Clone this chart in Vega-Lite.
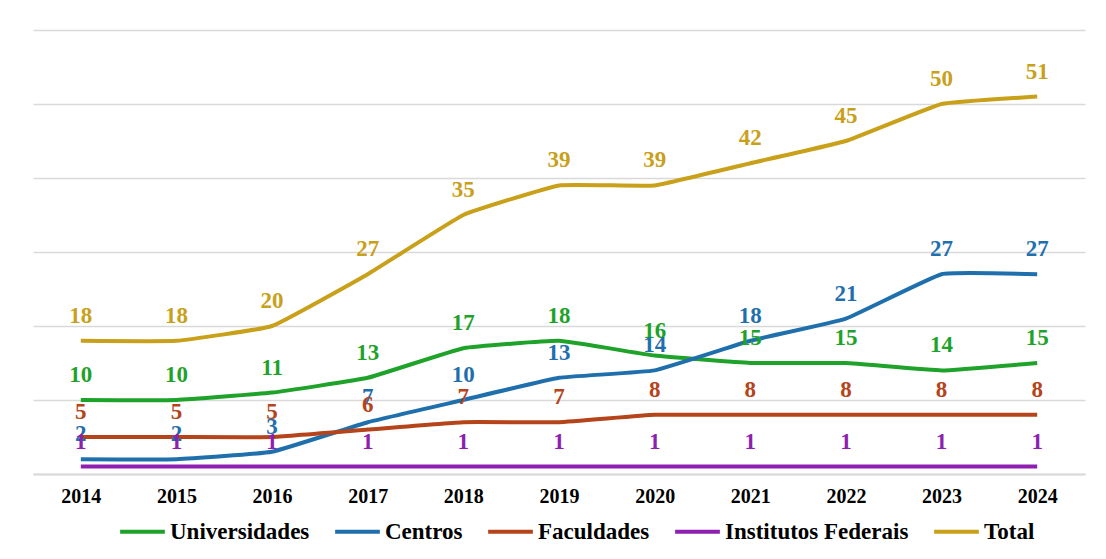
{
  "$schema": "https://vega.github.io/schema/vega-lite/v6.json",
  "width": 1052,
  "height": 444,
  "autosize": {"type": "none"},
  "padding": {"left": 33, "top": 30, "right": 21, "bottom": 85},
  "background": "white",
  "config": {
    "view": {"stroke": null},
    "font": "Liberation Serif"
  },
  "data": {
    "values": [
      {"ano": "2014", "serie": "Universidades", "valor": 10},
      {"ano": "2015", "serie": "Universidades", "valor": 10},
      {"ano": "2016", "serie": "Universidades", "valor": 11},
      {"ano": "2017", "serie": "Universidades", "valor": 13},
      {"ano": "2018", "serie": "Universidades", "valor": 17},
      {"ano": "2019", "serie": "Universidades", "valor": 18},
      {"ano": "2020", "serie": "Universidades", "valor": 16},
      {"ano": "2021", "serie": "Universidades", "valor": 15},
      {"ano": "2022", "serie": "Universidades", "valor": 15},
      {"ano": "2023", "serie": "Universidades", "valor": 14},
      {"ano": "2024", "serie": "Universidades", "valor": 15},
      {"ano": "2014", "serie": "Centros", "valor": 2},
      {"ano": "2015", "serie": "Centros", "valor": 2},
      {"ano": "2016", "serie": "Centros", "valor": 3},
      {"ano": "2017", "serie": "Centros", "valor": 7},
      {"ano": "2018", "serie": "Centros", "valor": 10},
      {"ano": "2019", "serie": "Centros", "valor": 13},
      {"ano": "2020", "serie": "Centros", "valor": 14},
      {"ano": "2021", "serie": "Centros", "valor": 18},
      {"ano": "2022", "serie": "Centros", "valor": 21},
      {"ano": "2023", "serie": "Centros", "valor": 27},
      {"ano": "2024", "serie": "Centros", "valor": 27},
      {"ano": "2014", "serie": "Faculdades", "valor": 5},
      {"ano": "2015", "serie": "Faculdades", "valor": 5},
      {"ano": "2016", "serie": "Faculdades", "valor": 5},
      {"ano": "2017", "serie": "Faculdades", "valor": 6},
      {"ano": "2018", "serie": "Faculdades", "valor": 7},
      {"ano": "2019", "serie": "Faculdades", "valor": 7},
      {"ano": "2020", "serie": "Faculdades", "valor": 8},
      {"ano": "2021", "serie": "Faculdades", "valor": 8},
      {"ano": "2022", "serie": "Faculdades", "valor": 8},
      {"ano": "2023", "serie": "Faculdades", "valor": 8},
      {"ano": "2024", "serie": "Faculdades", "valor": 8},
      {"ano": "2014", "serie": "Institutos Federais", "valor": 1},
      {"ano": "2015", "serie": "Institutos Federais", "valor": 1},
      {"ano": "2016", "serie": "Institutos Federais", "valor": 1},
      {"ano": "2017", "serie": "Institutos Federais", "valor": 1},
      {"ano": "2018", "serie": "Institutos Federais", "valor": 1},
      {"ano": "2019", "serie": "Institutos Federais", "valor": 1},
      {"ano": "2020", "serie": "Institutos Federais", "valor": 1},
      {"ano": "2021", "serie": "Institutos Federais", "valor": 1},
      {"ano": "2022", "serie": "Institutos Federais", "valor": 1},
      {"ano": "2023", "serie": "Institutos Federais", "valor": 1},
      {"ano": "2024", "serie": "Institutos Federais", "valor": 1},
      {"ano": "2014", "serie": "Total", "valor": 18},
      {"ano": "2015", "serie": "Total", "valor": 18},
      {"ano": "2016", "serie": "Total", "valor": 20},
      {"ano": "2017", "serie": "Total", "valor": 27},
      {"ano": "2018", "serie": "Total", "valor": 35},
      {"ano": "2019", "serie": "Total", "valor": 39},
      {"ano": "2020", "serie": "Total", "valor": 39},
      {"ano": "2021", "serie": "Total", "valor": 42},
      {"ano": "2022", "serie": "Total", "valor": 45},
      {"ano": "2023", "serie": "Total", "valor": 50},
      {"ano": "2024", "serie": "Total", "valor": 51}
    ]
  },
  "encoding": {
    "x": {
      "field": "ano", "type": "ordinal",
      "scale": {"type": "point", "padding": 0.5},
      "axis": {
        "title": null, "labelAngle": 0, "ticks": false,
        "labelFont": "Liberation Serif", "labelFontWeight": "bold", "labelFontSize": 20,
        "labelColor": "#000000", "labelPadding": 12,
        "domainColor": "#d9d9d9", "domainWidth": 2
      }
    },
    "y": {
      "field": "valor", "type": "quantitative",
      "scale": {"domain": [0, 60], "nice": false},
      "axis": {
        "title": null, "labels": false, "ticks": false, "domain": false,
        "values": [0, 10, 20, 30, 40, 50, 60],
        "gridColor": "#d9d9d9", "gridWidth": 1.5
      }
    },
    "color": {
      "field": "serie", "type": "nominal",
      "scale": {
        "domain": ["Universidades", "Centros", "Faculdades", "Institutos Federais", "Total"],
        "range": ["#1fa22a", "#1f6fad", "#b5441a", "#8e1fb0", "#c9a01a"]
      }
    }
  },
  "layer": [
    {
      "mark": {"type": "line", "strokeWidth": 4, "interpolate": "cardinal", "tension": 0.7},
      "encoding": {
        "color": {
          "field": "serie", "type": "nominal",
          "scale": {
            "domain": ["Universidades", "Centros", "Faculdades", "Institutos Federais", "Total"],
            "range": ["#1fa22a", "#1f6fad", "#b5441a", "#8e1fb0", "#c9a01a"]
          },
          "legend": {
            "title": null, "orient": "none", "legendX": 85, "legendY": 477, "direction": "horizontal",
            "symbolType": "stroke", "symbolSize": 2000, "symbolStrokeWidth": 4,
            "labelFont": "Liberation Serif", "labelFontWeight": "bold", "labelFontSize": 23,
            "labelColor": "#000000", "labelOffset": 3, "labelLimit": 0, "columnPadding": 17
          }
        }
      }
    },
    {
      "mark": {"type": "text", "dy": -25, "baseline": "middle", "font": "Liberation Serif", "fontWeight": "bold", "fontSize": 23},
      "encoding": {
        "text": {"field": "valor", "type": "quantitative"},
        "color": {"field": "serie", "type": "nominal", "legend": null}
      }
    }
  ]
}
